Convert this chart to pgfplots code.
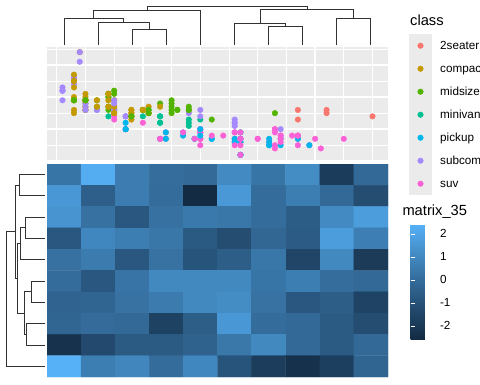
\documentclass[border=0pt]{standalone}
\usepackage{pgfplots}
\pgfplotsset{compat=1.18}
\usepackage{fontspec}
\setmainfont{Liberation Sans}
\definecolor{c2seater}{HTML}{F8766D}
\definecolor{ccompact}{HTML}{C49A00}
\definecolor{cmidsize}{HTML}{53B400}
\definecolor{cminivan}{HTML}{00C094}
\definecolor{cpickup}{HTML}{00B6EB}
\definecolor{csubcompact}{HTML}{A58AFF}
\definecolor{csuv}{HTML}{FB61D7}
\definecolor{panelgray}{HTML}{EBEBEB}
\pgfplotsset{colormap={ggblue}{rgb255=(19,43,67) rgb255=(34,73,108) rgb255=(51,106,152) rgb255=(68,141,198) rgb255=(86,177,247)}}
\newcommand{\legfont}{\fontsize{11.7}{14}\selectfont}
\newcommand{\titfont}{\fontsize{14.7}{17}\selectfont}
\begin{document}
\begin{tikzpicture}
% ---------------- scatter panel ----------------
\begin{axis}[
  at={(47pt,224pt)}, anchor=south west,
  width=341pt, height=113pt, scale only axis,
  xmin=1.33, xmax=7.27, ymin=10.4, ymax=45.6,
  axis background/.style={fill=panelgray},
  axis line style={draw=none},
  xtick={2,3,4,5,6,7}, ytick={20,30,40},
  minor xtick={1.5,2.5,3.5,4.5,5.5,6.5}, minor ytick={15,25,35,45},
  xticklabels={}, yticklabels={},
  major tick length=0pt, minor tick length=0pt,
  tick style={draw=none},
  xmajorgrids, ymajorgrids, xminorgrids, yminorgrids,
  major grid style={white, line width=1.42pt},
  minor grid style={white, line width=0.71pt},
]
\addplot[scatter, only marks, mark=*, mark size=2.8pt,
  scatter src=explicit symbolic,
  scatter/classes={
    2seater={mark=*,draw=c2seater,fill=c2seater},
    compact={mark=*,draw=ccompact,fill=ccompact},
    midsize={mark=*,draw=cmidsize,fill=cmidsize},
    minivan={mark=*,draw=cminivan,fill=cminivan},
    pickup={mark=*,draw=cpickup,fill=cpickup},
    subcompact={mark=*,draw=csubcompact,fill=csubcompact},
    suv={mark=*,draw=csuv,fill=csuv}}]
table[x=displ, y=hwy, meta=class] {
displ hwy class
1.8 29 compact
1.8 29 compact
2.0 31 compact
2.0 30 compact
2.8 26 compact
2.8 26 compact
3.1 27 compact
1.8 26 compact
1.8 25 compact
2.0 28 compact
2.0 27 compact
2.8 25 compact
2.8 25 compact
3.1 25 compact
3.1 25 compact
2.8 24 midsize
3.1 25 midsize
4.2 23 midsize
5.3 20 suv
5.3 15 suv
5.3 20 suv
5.7 17 suv
6.0 17 suv
5.7 26 2seater
5.7 23 2seater
6.2 26 2seater
6.2 25 2seater
7.0 24 2seater
5.3 19 suv
5.3 14 suv
5.7 15 suv
6.5 17 suv
2.4 27 midsize
2.4 30 midsize
3.1 26 midsize
3.5 29 midsize
3.6 26 midsize
2.4 24 minivan
3.0 24 minivan
3.3 22 minivan
3.3 22 minivan
3.3 24 minivan
3.3 24 minivan
3.3 17 minivan
3.8 22 minivan
3.8 21 minivan
3.8 23 minivan
4.0 23 minivan
3.7 19 pickup
3.7 18 pickup
3.9 17 pickup
3.9 17 pickup
4.7 19 pickup
4.7 19 pickup
4.7 12 pickup
5.2 17 pickup
5.2 15 pickup
3.9 17 suv
4.7 17 suv
4.7 12 suv
4.7 17 suv
5.2 16 suv
5.7 18 suv
5.9 15 suv
4.7 16 pickup
4.7 12 pickup
4.7 17 pickup
4.7 17 pickup
4.7 16 pickup
4.7 12 pickup
5.2 15 pickup
5.2 16 pickup
5.7 17 pickup
5.9 15 pickup
4.6 17 suv
5.4 17 suv
5.4 18 suv
4.0 17 suv
4.0 19 suv
4.0 17 suv
4.0 19 suv
4.6 19 suv
5.0 17 suv
4.2 17 pickup
4.2 17 pickup
4.6 16 pickup
4.6 16 pickup
4.6 17 pickup
5.4 15 pickup
5.4 17 pickup
3.8 26 subcompact
3.8 25 subcompact
4.0 26 subcompact
4.0 24 subcompact
4.6 21 subcompact
4.6 22 subcompact
4.6 23 subcompact
4.6 22 subcompact
5.4 20 subcompact
1.6 33 subcompact
1.6 32 subcompact
1.6 32 subcompact
1.6 29 subcompact
1.6 32 subcompact
1.8 34 subcompact
1.8 36 subcompact
1.8 36 subcompact
2.0 29 subcompact
2.4 26 midsize
2.4 27 midsize
2.4 30 midsize
2.4 31 midsize
2.5 26 midsize
2.5 26 midsize
3.3 28 midsize
2.0 26 subcompact
2.0 29 subcompact
2.0 28 subcompact
2.0 27 subcompact
2.7 24 subcompact
2.7 24 subcompact
2.7 24 subcompact
3.0 22 suv
3.7 19 suv
4.0 20 suv
4.7 17 suv
4.7 12 suv
4.7 19 suv
5.7 18 suv
6.1 14 suv
4.0 15 suv
4.2 18 suv
4.4 18 suv
4.6 15 suv
5.4 17 suv
5.4 16 suv
5.4 18 suv
4.0 17 suv
4.0 19 suv
4.6 19 suv
5.0 17 suv
2.4 27 compact
2.4 29 compact
2.5 31 midsize
2.5 32 midsize
3.5 27 midsize
3.5 26 midsize
3.0 26 midsize
3.0 26 midsize
3.5 25 midsize
3.3 17 suv
3.3 17 suv
4.0 20 suv
5.6 18 suv
3.1 26 midsize
3.8 27 midsize
3.8 26 midsize
3.8 26 midsize
5.3 25 midsize
2.5 25 suv
2.5 24 suv
2.5 27 suv
2.5 25 suv
2.5 26 suv
2.5 23 suv
2.2 26 subcompact
2.2 26 subcompact
2.5 26 subcompact
2.5 26 subcompact
2.5 25 compact
2.5 27 compact
2.5 25 compact
2.5 27 compact
2.7 20 suv
2.7 20 suv
3.4 19 suv
3.4 17 suv
4.0 20 suv
4.7 17 suv
2.2 29 midsize
2.2 27 midsize
2.4 31 midsize
2.4 31 midsize
3.0 26 midsize
3.0 26 midsize
3.5 28 midsize
2.2 27 compact
2.2 29 compact
2.4 31 compact
2.4 31 compact
3.0 26 compact
3.0 26 compact
3.3 27 compact
1.8 30 compact
1.8 33 compact
1.8 35 compact
1.8 37 compact
1.8 35 compact
4.7 15 suv
5.7 18 suv
2.7 20 pickup
2.7 20 pickup
2.7 22 pickup
3.4 17 pickup
3.4 19 pickup
4.0 18 pickup
4.0 20 pickup
2.0 29 compact
2.0 26 compact
2.0 29 compact
2.0 29 compact
2.8 24 compact
1.9 44 compact
2.0 29 compact
2.0 26 compact
2.0 29 compact
2.0 29 compact
2.5 29 compact
2.5 29 compact
2.8 23 compact
2.8 24 compact
1.9 44 subcompact
1.9 41 subcompact
2.0 29 subcompact
2.0 26 subcompact
2.5 28 subcompact
2.5 29 subcompact
1.8 29 midsize
1.8 29 midsize
2.0 29 midsize
2.0 29 midsize
2.8 24 midsize
2.8 24 midsize
3.6 26 midsize
};
\end{axis}
% ---------------- heatmap ----------------
\begin{axis}[
  at={(47pt,7pt)}, anchor=south west,
  width=341pt, height=213pt, scale only axis,
  xmin=0.5, xmax=10.5, ymin=0.5, ymax=10.5, y dir=reverse,
  enlargelimits=false,
  xtick=\empty, ytick=\empty,
  axis line style={draw=none},
  colormap name=ggblue,
  point meta min=-2.57, point meta max=2.43,
  colorbar,
  colorbar style={
    at={(parent axis.north east)}, anchor=north west,
    xshift=14pt, yshift=-60pt,
    width=24pt, height=115pt, scale only axis,
    axis line style={draw=none},
    ytick={-2,-1,0,1,2}, yticklabels={-2,-1,0,1,2},
    ytick align=inside, ytick pos=both, yticklabel pos=right,
    major tick length=4.8pt,
    tick style={white, line width=0.6pt},
    yticklabel style={font=\legfont, text=black, xshift=2pt},
  },
]
\addplot[matrix plot*, mesh/cols=10, point meta=explicit] table[x=x, y=y, meta=v] {
x y v
1 1 0.33
2 1 2.28
3 1 0.58
4 1 0.08
5 1 -0.07
6 1 1.08
7 1 0.33
8 1 1.13
9 1 -1.87
10 1 -0.12
1 2 1.53
2 2 -0.47
3 2 0.58
4 2 0.03
5 2 -2.57
6 2 1.58
7 2 0.03
8 2 0.63
9 2 -0.12
10 2 -1.17
1 3 1.43
2 3 0.18
3 3 -0.77
4 3 0.18
5 3 0.48
6 3 0.38
7 3 0.03
8 3 -0.57
9 3 1.08
10 3 1.73
1 4 -0.77
2 4 0.98
3 4 0.63
4 4 0.38
5 4 -0.72
6 4 -1.17
7 4 -0.17
8 4 -0.62
9 4 1.73
10 4 0.68
1 5 0.18
2 5 0.53
3 5 -0.77
4 5 0.23
5 5 -0.92
6 5 -0.52
7 5 0.38
8 5 -1.47
9 5 1.03
10 5 -1.92
1 6 0.03
2 6 -0.77
3 6 0.28
4 6 1.03
5 6 1.03
6 6 1.03
7 6 0.33
8 6 0.63
9 6 0.08
10 6 -0.12
1 7 -0.32
2 7 -0.27
3 7 0.23
4 7 0.53
5 7 1.03
6 7 1.13
7 7 0.23
8 7 -0.77
9 7 -0.52
10 7 -1.57
1 8 -0.22
2 8 -0.02
3 8 -0.12
4 8 -1.62
5 8 -0.52
6 8 1.53
7 8 0.03
8 8 -0.12
9 8 -0.67
10 8 -1.17
1 9 -2.27
2 9 -1.27
3 9 -0.67
4 9 -0.67
5 9 -0.37
6 9 0.43
7 9 1.03
8 9 -0.12
9 9 -0.67
10 9 -0.12
1 10 2.43
2 10 0.63
3 10 0.93
4 10 0.03
5 10 0.98
6 10 -0.92
7 10 -1.82
8 10 -2.32
9 10 -1.72
10 10 -0.27
};
\end{axis}
% ---------------- dendrograms and legend (pixel coordinates) ----------------
\begin{axis}[
  at={(0pt,0pt)}, anchor=south west,
  width=480pt, height=384pt, scale only axis,
  xmin=0, xmax=480, ymin=0, ymax=384, y dir=reverse,
  hide axis, clip=false,
  dendro/.style={black!80, line width=0.95pt, mark=none, line join=miter},
]
% column dendrogram
\addplot[dendro] coordinates {(132.25,45) (132.25,29.3) (166.35,29.3) (166.35,45)};
\addplot[dendro] coordinates {(98.15,45) (98.15,22) (149.3,22) (149.3,29.3)};
\addplot[dendro] coordinates {(64.05,45) (64.05,18.7) (123.7,18.7) (123.7,22)};
\addplot[dendro] coordinates {(93.9,18.7) (93.9,10.7) (200.45,10.7) (200.45,45)};
\addplot[dendro] coordinates {(268.65,45) (268.65,26) (302.75,26) (302.75,45)};
\addplot[dendro] coordinates {(234.55,45) (234.55,23.3) (285.7,23.3) (285.7,26)};
\addplot[dendro] coordinates {(336.85,45) (336.85,18.7) (370.95,18.7) (370.95,45)};
\addplot[dendro] coordinates {(260.1,23.3) (260.1,9) (353.9,9) (353.9,18.7)};
\addplot[dendro] coordinates {(147.2,10.7) (147.2,6.7) (307,6.7) (307,9)};
% row dendrogram
\addplot[dendro] coordinates {(45,174.65) (19,174.65) (19,195.95) (45,195.95)};
\addplot[dendro] coordinates {(45,217.25) (25.7,217.25) (25.7,238.55) (45,238.55)};
\addplot[dendro] coordinates {(25.7,227.9) (20.7,227.9) (20.7,259.85) (45,259.85)};
\addplot[dendro] coordinates {(45,281.15) (31.7,281.15) (31.7,302.45) (45,302.45)};
\addplot[dendro] coordinates {(45,323.75) (26.7,323.75) (26.7,345.05) (45,345.05)};
\addplot[dendro] coordinates {(31.7,291.8) (24.3,291.8) (24.3,334.4) (26.7,334.4)};
\addplot[dendro] coordinates {(20.7,243.9) (17.3,243.9) (17.3,313.1) (24.3,313.1)};
\addplot[dendro] coordinates {(19,185.3) (15.3,185.3) (15.3,278.5) (17.3,278.5)};
\addplot[dendro] coordinates {(15.3,231.9) (6.7,231.9) (6.7,366.35) (45,366.35)};
% class legend
\node[anchor=base west, font=\titfont, inner sep=0pt] at (axis cs:410,25) {class};
\fill[panelgray] (axis cs:409,34.2) rectangle (axis cs:432,195.2);
\addplot[only marks, mark=*, mark size=2.8pt, color=c2seater] coordinates {(420.5,45.7)};
\addplot[only marks, mark=*, mark size=2.8pt, color=ccompact] coordinates {(420.5,68.7)};
\addplot[only marks, mark=*, mark size=2.8pt, color=cmidsize] coordinates {(420.5,91.7)};
\addplot[only marks, mark=*, mark size=2.8pt, color=cminivan] coordinates {(420.5,114.7)};
\addplot[only marks, mark=*, mark size=2.8pt, color=cpickup] coordinates {(420.5,137.7)};
\addplot[only marks, mark=*, mark size=2.8pt, color=csubcompact] coordinates {(420.5,160.7)};
\addplot[only marks, mark=*, mark size=2.8pt, color=csuv] coordinates {(420.5,183.7)};
\node[anchor=base west, font=\legfont, inner sep=0pt] at (axis cs:440,49.9) {2seater};
\node[anchor=base west, font=\legfont, inner sep=0pt] at (axis cs:440,72.9) {compact};
\node[anchor=base west, font=\legfont, inner sep=0pt] at (axis cs:440,95.9) {midsize};
\node[anchor=base west, font=\legfont, inner sep=0pt] at (axis cs:440,118.9) {minivan};
\node[anchor=base west, font=\legfont, inner sep=0pt] at (axis cs:440,141.9) {pickup};
\node[anchor=base west, font=\legfont, inner sep=0pt] at (axis cs:440,164.9) {subcompact};
\node[anchor=base west, font=\legfont, inner sep=0pt] at (axis cs:440,187.9) {suv};
% colour bar title
\node[anchor=base west, font=\titfont, inner sep=0pt] at (axis cs:402.3,215.3) {matrix\_35};
\end{axis}
\pgfresetboundingbox
\useasboundingbox (0pt,0pt) rectangle (480pt,384pt);
\end{tikzpicture}
\end{document}
